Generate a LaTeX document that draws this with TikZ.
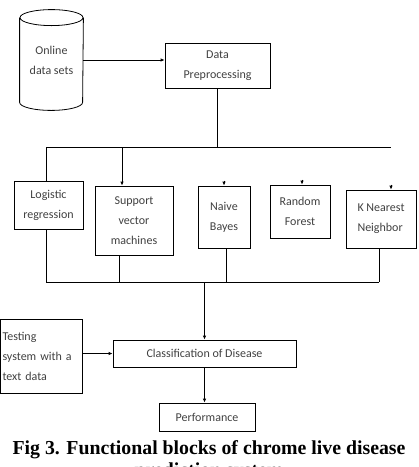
\documentclass[tikz,border=0pt]{standalone}
\usepackage{fontspec}
\setmainfont{Carlito}
\newfontfamily\capfont{Liberation Serif}
\usepackage{tikz}
\usetikzlibrary{arrows.meta}
\tikzset{blk/.style={draw, rectangle, inner sep=2pt, align=center, text=black!75, font=\fontsize{12}{20}\selectfont},
  tip/.style={-{Latex[length=4pt,width=3.5pt]}}}

\begin{document}
\begin{tikzpicture}
        [x=1pt,y=-1pt,line width=.8pt]
            \useasboundingbox (0,0) rectangle (419,467);
            % source and preprocessing
            \node [blk, draw=none, minimum width=63pt, minimum height=100pt] (cyl) at (51.5,60) {Online\\data sets};
            \draw ([yshift=-8pt]cyl.north west) -- ([yshift=8pt]cyl.south west) arc[start angle=180, end angle=360, x radius=31.5pt, y radius=8pt] -- ([yshift=-8pt]cyl.north east);
            \draw ([yshift=-8pt]cyl.north) ellipse [x radius=31.5pt, y radius=8pt];
            \node [blk, minimum width=105pt, minimum height=45pt] (prep) at (217.5,65.5) {Data\\Preprocessing};
            \draw [tip] (cyl) -- (cyl -| prep.west);
            % classifiers
            \node [blk, minimum width=69pt, minimum height=48pt] (lr) at (48.5,205) {Logistic\\regression};
            \node [blk, minimum width=78pt, minimum height=69pt] (svm) at (134,220.5) {Support\\vector\\machines};
            \node [blk, minimum width=52pt, minimum height=62pt] (nb) at (224,217) {Naive\\Bayes};
            \node [blk, minimum width=60pt, minimum height=53pt] (rf) at (300,211.5) {Random\\Forest};
            \node [blk, minimum width=70pt, minimum height=58pt, align=left] (knn) at (381,219) {K Nearest\\Neighbor};
            \coordinate (busL) at (46,147);
            \coordinate (busR) at (391,147);
            \draw (prep) -- (prep |- busL);
            \draw (busL) -- (busR);
            \draw (busL) -- (busL |- lr.north);
            \draw [tip] (busL -| 122,0) -- (122,0 |- svm.north);
            \draw [tip] (nb.north) ++(0,-5) -- (nb.north);
            \draw [tip] ([xshift=2pt]rf.north) ++(0,-5) -- ([xshift=2pt]rf.north);
            \draw [tip] ([xshift=10pt]knn.north) ++(0,-5) -- ([xshift=10pt]knn.north);
            % join
            \coordinate (jL) at (46,282);
            \coordinate (jR) at (379,282);
            \draw (busL |- lr.south) -- (jL) -- (jR);
            \draw ([xshift=-15pt]svm.south) -- ([xshift=-15pt]svm.south |- jL);
            \draw ([xshift=2pt]nb.south) -- ([xshift=2pt]nb.south |- jL);
            \draw (jR |- knn.south) -- (jR);
            % classification
            \node [blk, minimum width=183pt, minimum height=27pt] (cls) at (204.5,353.5) {Classification of Disease};
            \node [blk, minimum width=82pt, minimum height=74pt, align=left, text width=78pt, inner sep=2pt] (test) at (41.5,356) {Testing\\system with a\\text data};
            \node [blk, minimum width=96pt, minimum height=28pt] (perf) at (207,417) {Performance};
            \draw [tip] (cls.north |- jL) -- (cls.north);
            \draw [tip] (test.east |- cls) -- (cls.west);
            \draw [tip] (cls.south) -- (cls.south |- perf.north);
            % caption
            \node [align=center, inner sep=0pt, anchor=north, font=\capfont\bfseries\fontsize{19.8}{22}\selectfont] (cap) at (209,440) {Fig 3. Functional blocks of chrome live disease\\prediction system};
        \end{tikzpicture}
\end{document}
